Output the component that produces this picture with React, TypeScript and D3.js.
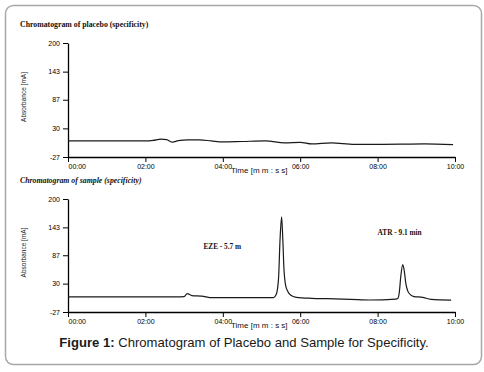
import React, { useEffect, useRef } from "react";
import * as d3 from "d3";

// axis ticks
const timeTicks = [0, 2, 4, 6, 8, 10];
const timeTickLabels = ["00:00", "02:00", "04:00", "06:00", "08:00", "10:00"];
const absTicks = [-27, 30, 87, 143, 200];

// placebo trace (minutes, mA)
const placeboTime = [0, 1, 2, 2.2, 2.4, 2.55, 2.7, 2.85, 3.1, 3.4, 3.7, 4.0, 4.5, 5.1, 5.6, 6.0, 6.3, 6.8, 7.4, 8.1, 8.6, 9.2, 9.95];
const placeboAbs = [5, 5, 5, 6, 8.5, 7.5, 2.5, 5.5, 7, 7, 5, 3, 3.9, 5, 1, 2.3, -1, 1, -1.7, -1.7, -1.5, -0.8, -2.5];

// sample trace (minutes, mA)
const sampleTime = [0, 1, 2, 2.8, 3.0, 3.08, 3.2, 3.45, 3.73, 4.5, 5.31, 5.38, 5.44, 5.48, 5.52, 5.55, 5.58, 5.62, 5.68, 5.75, 5.9, 6.3, 6.7, 7.3, 7.8, 8.47, 8.52, 8.56, 8.6, 8.65, 8.69, 8.73, 8.78, 8.86, 8.94, 9.16, 9.38, 9.9];
const sampleAbs = [3.5, 3.5, 3.5, 3.5, 4, 10, 6, 5, 1.7, 1.7, 2, 8, 40, 120, 164, 120, 60, 28, 14, 7, 2.5, 0.5, -0.3, -1.5, -2.9, -1, 0, 12, 45, 68, 55, 30, 15, 7, 4, 2.5, -1.5, -3];

// peak annotations
const peakLabels = ["EZE - 5.7 m", "ATR - 9.1 min"];
const peakLabelTime = [3.5, 8.0];
const peakLabelAbs = [100, 128];

const serif = "'Liberation Serif', 'DejaVu Serif', serif";
const sans = "'Liberation Sans', Arial, sans-serif";

export default function App() {
  const svgRef = useRef<SVGSVGElement>(null);

  useEffect(() => {
    const svg = d3.select(svgRef.current);
    svg.selectChildren().remove();

    // outer frame
    svg
      .append("rect")
      .attr("x", 5.5)
      .attr("y", 5.5)
      .attr("width", 476)
      .attr("height", 359)
      .attr("rx", 8)
      .attr("fill", "#fff")
      .attr("stroke", "#a8a8a8")
      .attr("stroke-width", 1.5);

    const x = d3.scaleLinear().domain([0, 10]).range([68, 455]);

    const panels = [
      {
        title: "Chromatogram of placebo (specificity)",
        italic: false,
        titleY: 27,
        top: 43,
        bottom: 157,
        time: placeboTime,
        abs: placeboAbs,
        labels: false,
      },
      {
        title: "Chromatogram of sample (specificity)",
        italic: true,
        titleY: 183,
        top: 199,
        bottom: 312,
        time: sampleTime,
        abs: sampleAbs,
        labels: true,
      },
    ];

    panels.forEach((p) => {
      const y = d3.scaleLinear().domain([-27, 200]).range([p.bottom, p.top]);
      const g = svg.append("g");

      g.append("text")
        .attr("x", 20)
        .attr("y", p.titleY)
        .attr("font-family", serif)
        .attr("font-weight", "bold")
        .attr("font-style", p.italic ? "italic" : "normal")
        .attr("font-size", 7.8)
        .attr("fill", "#111")
        .text(p.title);

      // y axis
      const yAxis = g
        .append("g")
        .attr("transform", `translate(${x(0)},0)`)
        .call(
          d3
            .axisLeft(y)
            .tickValues(absTicks)
            .tickSize(5)
            .tickSizeOuter(0)
            .tickPadding(3)
            .tickFormat((d) => String(d))
        );
      yAxis.selectAll("text").attr("font-family", sans).attr("font-size", 7).attr("fill", "#000");

      // x axis
      const xAxis = g
        .append("g")
        .attr("transform", `translate(0,${p.bottom})`)
        .call(
          d3
            .axisBottom(x)
            .tickValues(timeTicks)
            .tickSize(5)
            .tickSizeOuter(0)
            .tickPadding(2)
            .tickFormat((d, i) => timeTickLabels[i])
        );
      xAxis.selectAll("text").attr("font-family", sans).attr("font-size", 7).attr("fill", "#000");
      xAxis.select(".tick text").attr("text-anchor", "start");
      [yAxis, xAxis].forEach((a) => {
        a.select(".domain").attr("stroke", "#000").attr("stroke-width", 1.3);
        a.selectAll(".tick line").attr("stroke", "#000").attr("stroke-width", 1);
      });

      g.append("text")
        .attr("x", 231)
        .attr("y", p.bottom + 16)
        .attr("font-family", sans)
        .attr("font-size", 8)
        .attr("fill", "#111")
        .text("Time [m m : s s]");

      g.append("text")
        .attr("transform", `translate(26,${(p.top + p.bottom) / 2 - 3}) rotate(-90)`)
        .attr("text-anchor", "middle")
        .attr("font-family", sans)
        .attr("font-size", 6.5)
        .attr("fill", "#222")
        .text("Absorbance [mA]");

      // trace
      const pts: Array<[number, number]> = p.time.map((t, i) => [t, p.abs[i]]);
      const line = d3
        .line<[number, number]>()
        .x((d) => x(d[0]))
        .y((d) => y(d[1]))
        .curve(d3.curveMonotoneX);
      g.append("path")
        .attr("d", line(pts))
        .attr("fill", "none")
        .attr("stroke", "#1a1a1a")
        .attr("stroke-width", 1.2);

      if (p.labels) {
        peakLabels.forEach((lbl, i) => {
          g.append("text")
            .attr("x", x(peakLabelTime[i]))
            .attr("y", y(peakLabelAbs[i]))
            .attr("font-family", serif)
            .attr("font-weight", "bold")
            .attr("font-size", 7.3)
            .attr("fill", "#111")
            .text(lbl);
        });
      }
    });

    // caption
    const cap = svg
      .append("text")
      .attr("x", 244)
      .attr("y", 347)
      .attr("text-anchor", "middle")
      .attr("font-family", sans)
      .attr("font-size", 13.1)
      .attr("fill", "#1a1a1a");
    cap.append("tspan").attr("font-weight", "bold").text("Figure 1:");
    cap.append("tspan").text(" Chromatogram of Placebo and Sample for Specificity.");
  }, []);

  return (
    <svg
      ref={svgRef}
      width={484}
      height={372}
      style={{ position: "absolute", left: 0, top: 0, background: "#fff" }}
    />
  );
}
